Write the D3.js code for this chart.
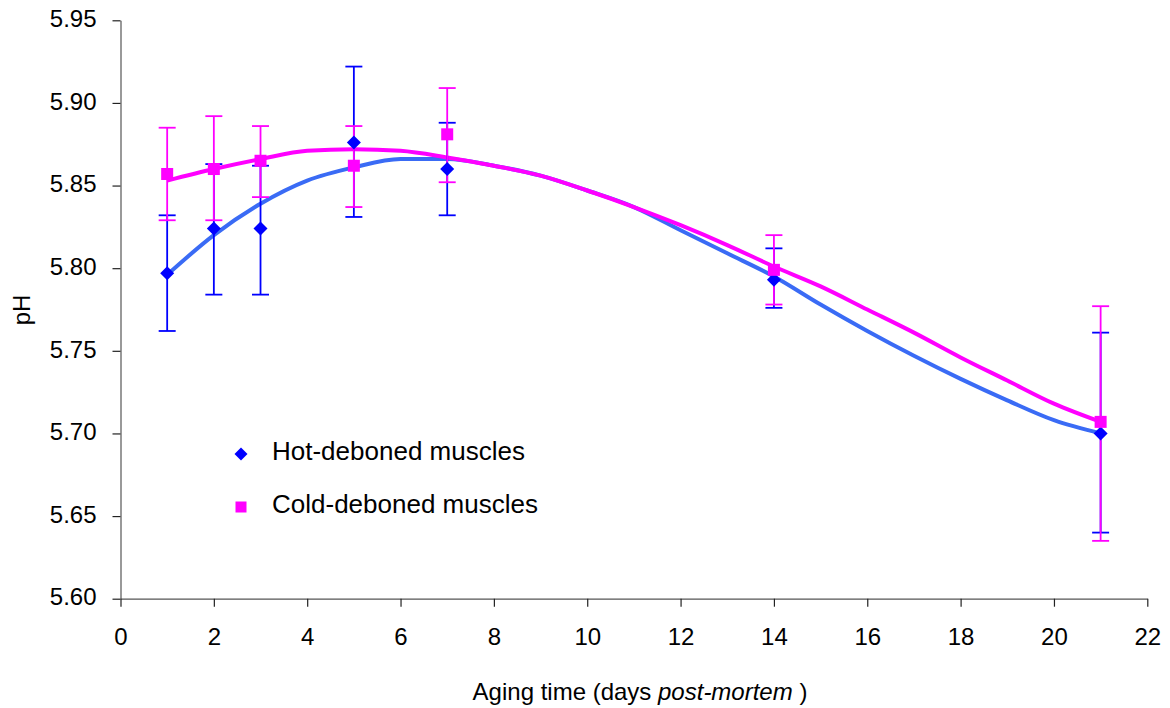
<!DOCTYPE html>
<html><head><meta charset="utf-8">
<script src="https://cdn.jsdelivr.net/npm/d3@7"></script>
<style>
body{margin:0;background:#fff;}
text{font-family:"Liberation Sans",Arial,sans-serif;fill:#000;}
</style>
</head><body>
<svg id="c" width="1170" height="708"></svg>
<script>
// ---- data ----
const days = [1, 2, 3, 5, 7, 14, 21];
const hotMean  = [5.797, 5.824, 5.824, 5.876, 5.860, 5.793, 5.700];
const hotLow   = [5.762, 5.784, 5.784, 5.831, 5.832, 5.776, 5.640];
const hotHigh  = [5.832, 5.863, 5.862, 5.922, 5.888, 5.812, 5.761];
const coldMean = [5.857, 5.860, 5.865, 5.862, 5.881, 5.799, 5.707];
const coldLow  = [5.829, 5.829, 5.843, 5.837, 5.852, 5.778, 5.635];
const coldHigh = [5.885, 5.892, 5.886, 5.886, 5.909, 5.820, 5.777];

const trendDays = [1,2,3,4,5,6,7,8,9,10,11,12,13,14,15,16,17,18,19,20,21];
const hotTrend  = [5.796,5.820,5.839,5.853,5.861,5.866,5.866,5.862,5.856,5.847,5.837,5.823,5.809,5.795,5.778,5.762,5.747,5.733,5.720,5.708,5.700];
const coldTrend = [5.853,5.860,5.866,5.871,5.872,5.871,5.867,5.862,5.856,5.847,5.837,5.826,5.814,5.801,5.789,5.775,5.761,5.746,5.732,5.718,5.707];

const xTicks = [0,2,4,6,8,10,12,14,16,18,20,22];
const yTicks = [5.60,5.65,5.70,5.75,5.80,5.85,5.90,5.95];
const seriesNames = ["Hot-deboned muscles", "Cold-deboned muscles"];
const xTitle = "Aging time (days ";
const xTitleItalic = "post-mortem";
const yTitle = "pH";

// ---- layout ----
const svg = d3.select("#c");
const x = d3.scaleLinear().domain([0, 22]).range([120.5, 1147.3]);
const y = d3.scaleLinear().domain([5.60, 5.95]).range([598.7, 20.3]);

const blueMk = "#0000FF", blueTr = "#3A6BF5", pink = "#FF00FF";

// axes
const gx = svg.append("g").attr("transform", `translate(0,${y(5.60)})`)
  .call(d3.axisBottom(x).tickValues(xTicks).tickSize(8).tickSizeOuter(0).tickPadding(21).tickFormat(d3.format("d")));
const gy = svg.append("g").attr("transform", `translate(${x(0)},0)`)
  .call(d3.axisLeft(y).tickValues(yTicks).tickSize(8).tickSizeOuter(0).tickPadding(16).tickFormat(d3.format(".2f")));
[gx, gy].forEach(g => {
  g.select(".domain").attr("stroke", "#555").attr("stroke-width", 1.2);
  g.selectAll(".tick line").attr("stroke", "#222").attr("stroke-width", 1.2);
  g.selectAll(".tick text").attr("font-size", 24).attr("font-family", "Liberation Sans, Arial, sans-serif").attr("fill", "#000");
});
gy.selectAll(".tick text").attr("dy", "0.26em");

// axis titles
const xt = svg.append("text").attr("x", 640).attr("y", 700).attr("text-anchor", "middle").attr("font-size", 24);
xt.append("tspan").text(xTitle);
xt.append("tspan").attr("font-style", "italic").text(xTitleItalic);
xt.append("tspan").text(" )");
svg.append("text").attr("transform", "translate(30,310) rotate(-90)").attr("text-anchor", "middle")
  .attr("font-size", 24).text(yTitle);

// trend lines
const line = d3.line().x((d, i) => x(trendDays[i])).y(d => y(d)).curve(d3.curveMonotoneX);
svg.append("path").datum(hotTrend).attr("d", line).attr("fill", "none").attr("stroke", blueTr).attr("stroke-width", 4);
svg.append("path").datum(coldTrend).attr("d", line).attr("fill", "none").attr("stroke", pink).attr("stroke-width", 4);

// error bars
function errBars(low, high, color) {
  const g = svg.append("g").attr("stroke", color).attr("stroke-width", 1.8);
  days.forEach((d, i) => {
    g.append("line").attr("x1", x(d)).attr("x2", x(d)).attr("y1", y(low[i])).attr("y2", y(high[i]));
    g.append("line").attr("x1", x(d) - 8.5).attr("x2", x(d) + 8.5).attr("y1", y(low[i])).attr("y2", y(low[i]));
    g.append("line").attr("x1", x(d) - 8.5).attr("x2", x(d) + 8.5).attr("y1", y(high[i])).attr("y2", y(high[i]));
  });
}
errBars(hotLow, hotHigh, blueMk);
errBars(coldLow, coldHigh, pink);

// markers
const diamond = (cx, cy, w, h) => `M${cx},${cy - h}L${cx + w},${cy}L${cx},${cy + h}L${cx - w},${cy}Z`;
svg.append("g").selectAll("path").data(hotMean).join("path")
  .attr("d", (d, i) => diamond(x(days[i]), y(d), 7, 7)).attr("fill", blueMk);
svg.append("g").selectAll("rect").data(coldMean).join("rect")
  .attr("x", (d, i) => x(days[i]) - 6).attr("y", d => y(d) - 6)
  .attr("width", 12).attr("height", 12).attr("fill", pink);

// legend
svg.append("path").attr("d", diamond(241, 454, 6.5, 6.5)).attr("fill", blueMk);
svg.append("text").attr("x", 272).attr("y", 460).attr("font-size", 26).text(seriesNames[0]);
svg.append("rect").attr("x", 235.5).attr("y", 501.5).attr("width", 11).attr("height", 11).attr("fill", pink);
svg.append("text").attr("x", 272).attr("y", 513).attr("font-size", 26).text(seriesNames[1]);
</script>
</body></html>
